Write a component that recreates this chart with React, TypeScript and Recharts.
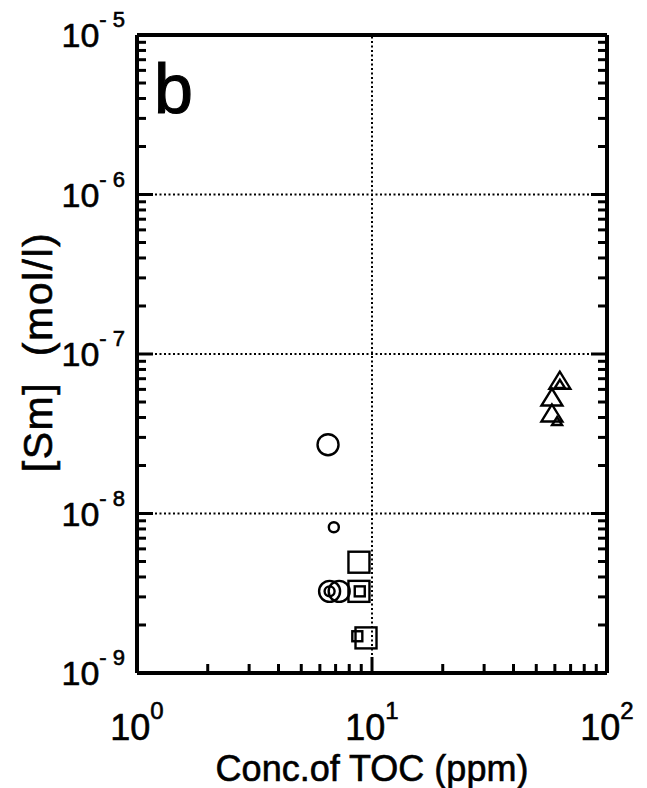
import React from 'react';
import {
	ScatterChart,
	Scatter,
	XAxis,
	YAxis,
	ReferenceLine,
} from 'recharts';

// TOC (ppm) vs [Sm] (mol/l)
const bigCircles = [
	{ toc: 6.5, sm: 2.7e-8 },
	{ toc: 6.6, sm: 3.25e-9 },
	{ toc: 7.25, sm: 3.25e-9 },
];
const smallCircles = [
	{ toc: 6.88, sm: 8.2e-9 },
	{ toc: 6.6, sm: 3.25e-9 },
];
const bigSquares = [
	{ toc: 8.8, sm: 4.95e-9 },
	{ toc: 8.8, sm: 3.25e-9 },
	{ toc: 9.43, sm: 1.66e-9 },
];
const smallSquares = [
	{ toc: 8.87, sm: 3.25e-9 },
	{ toc: 8.66, sm: 1.7e-9 },
];
const bigTriangles = [
	{ toc: 63, sm: 6.85e-8 },
	{ toc: 58.3, sm: 5.37e-8 },
	{ toc: 58.3, sm: 4.27e-8 },
];
const smallTriangles = [
	{ toc: 63, sm: 6.5e-8 },
	{ toc: 61.3, sm: 3.8e-8 },
];

const xMajor = [1, 10, 100];
const xTicks = [1, 2, 3, 4, 5, 6, 7, 8, 9, 10, 20, 30, 40, 50, 60, 70, 80, 90, 100];
const yMajor = [1e-9, 1e-8, 1e-7, 1e-6, 1e-5];
const yMultipliers = [1, 2, 3, 4, 5, 6, 7, 8, 9];
const yTicks = [...yMajor.slice(0, 4).flatMap((d) => yMultipliers.map((m) => m * d)), 1e-5];

const FONT = '"Liberation Sans", Arial, sans-serif';

const isMajor = (list: number[], v: number) => list.some((m) => Math.abs(v / m - 1) < 1e-6);
const expOf = (v: number) => Math.round(Math.log10(v));

const BottomTick = (props: any) => {
	const { x, y, payload } = props;
	const major = isMajor(xMajor, payload.value);
	return (
		<g>
			<line x1={x} y1={y} x2={x} y2={y - (major ? 16 : 9)} stroke="#000" strokeWidth={3} />
			{major && (
				<text x={x} y={y + 67} textAnchor="middle" fontFamily={FONT} fontSize={36} fill="#000" stroke="#000" strokeWidth={0.6}>
					10
					<tspan dy={-21} fontSize={24}>{expOf(payload.value)}</tspan>
				</text>
			)}
		</g>
	);
};

const TopTick = (props: any) => {
	const { x, y, payload } = props;
	const major = isMajor(xMajor, payload.value);
	return <line x1={x} y1={y} x2={x} y2={y + (major ? 16 : 9)} stroke="#000" strokeWidth={3} />;
};

const LeftTick = (props: any) => {
	const { x, y, payload } = props;
	const major = isMajor(yMajor, payload.value);
	return (
		<g>
			<line x1={x} y1={y} x2={x + (major ? 16 : 9)} y2={y} stroke="#000" strokeWidth={3} />
			{major && (
				<text x={x - 12} y={y + 12} textAnchor="end" fontFamily={FONT} fontSize={34} fill="#000" stroke="#000" strokeWidth={0.6}>
					10
					<tspan dy={-20} fontSize={22}>{String(expOf(payload.value)).replace('-', '- ')}</tspan>
				</text>
			)}
		</g>
	);
};

const RightTick = (props: any) => {
	const { x, y, payload } = props;
	const major = isMajor(yMajor, payload.value);
	return <line x1={x} y1={y} x2={x - (major ? 16 : 9)} y2={y} stroke="#000" strokeWidth={3} />;
};

const circleShape = (r: number) => (p: any) => (
	<circle cx={p.cx} cy={p.cy} r={r} fill="none" stroke="#000" strokeWidth={2.4} />
);
const squareShape = (s: number) => (p: any) => (
	<rect x={p.cx - s / 2} y={p.cy - s / 2} width={s} height={s} fill="none" stroke="#000" strokeWidth={2.4} />
);
const triangleShape = (w: number, h: number) => (p: any) => (
	<polygon
		points={`${p.cx},${p.cy - h / 2} ${p.cx - w / 2},${p.cy + h / 2} ${p.cx + w / 2},${p.cy + h / 2}`}
		fill="none"
		stroke="#000"
		strokeWidth={2.4}
		strokeLinejoin="miter"
	/>
);

const axisLine = { stroke: '#000', strokeWidth: 4 };
const grid = { stroke: '#000', strokeWidth: 2, strokeDasharray: '2 2.5' };

export default function App() {
	return (
		<div style={{ position: 'absolute', left: 0, top: 0, background: '#fff' }}>
			<ScatterChart width={647} height={788} margin={{ top: 34, right: 39, bottom: 114, left: 136 }}>
				<XAxis
					dataKey="toc"
					type="number"
					scale="log"
					domain={[1, 100]}
					ticks={xTicks}
					interval={0}
					height={1}
					tickSize={0}
					tickMargin={0}
					tickLine={false}
					axisLine={axisLine}
					tick={<BottomTick />}
					allowDataOverflow
					label={{
						content: () => (
							<text x={372} y={781} textAnchor="middle" fontFamily={FONT} fontSize={36} fill="#000" stroke="#000" strokeWidth={0.6}>
								Conc.of TOC (ppm)
							</text>
						),
					}}
				/>
				<XAxis
					xAxisId="top"
					orientation="top"
					type="number"
					scale="log"
					domain={[1, 100]}
					ticks={xTicks}
					interval={0}
					height={1}
					tickSize={0}
					tickMargin={0}
					tickLine={false}
					axisLine={axisLine}
					tick={<TopTick />}
					allowDataOverflow
					label={{
						content: () => (
							<text x={154} y={113} fontFamily={FONT} fontSize={70} fill="#000" stroke="#000" strokeWidth={1.2}>
								b
							</text>
						),
					}}
				/>
				<YAxis
					dataKey="sm"
					type="number"
					scale="log"
					domain={[1e-9, 1e-5]}
					ticks={yTicks}
					interval={0}
					width={1}
					tickSize={0}
					tickMargin={0}
					tickLine={false}
					axisLine={axisLine}
					tick={<LeftTick />}
					allowDataOverflow
					label={{
						content: () => (
							<text
								x={38}
								y={352}
								transform="rotate(-90 38 352)"
								textAnchor="middle"
								dominantBaseline="central"
								fontFamily={FONT}
								fontSize={41}
								letterSpacing={1.5}
								fill="#000"
								stroke="#000"
								strokeWidth={0.6}
								style={{ whiteSpace: 'pre' }}
							>
								{'[Sm]  (mol/l)'}
							</text>
						),
					}}
				/>
				<YAxis
					yAxisId="right"
					orientation="right"
					type="number"
					scale="log"
					domain={[1e-9, 1e-5]}
					ticks={yTicks}
					interval={0}
					width={1}
					tickSize={0}
					tickMargin={0}
					tickLine={false}
					axisLine={axisLine}
					tick={<RightTick />}
					allowDataOverflow
				/>
				<ReferenceLine x={10} {...grid} />
				<ReferenceLine y={1e-8} {...grid} />
				<ReferenceLine y={1e-7} {...grid} />
				<ReferenceLine y={1e-6} {...grid} />
				<Scatter data={bigCircles} shape={circleShape(10.5)} isAnimationActive={false} />
				<Scatter data={smallCircles} shape={circleShape(5)} isAnimationActive={false} />
				<Scatter data={bigSquares} shape={squareShape(21)} isAnimationActive={false} />
				<Scatter data={smallSquares} shape={squareShape(10)} isAnimationActive={false} />
				<Scatter data={bigTriangles} shape={triangleShape(21, 17)} isAnimationActive={false} />
				<Scatter data={smallTriangles} shape={triangleShape(10, 8)} isAnimationActive={false} />
			</ScatterChart>
		</div>
	);
}
